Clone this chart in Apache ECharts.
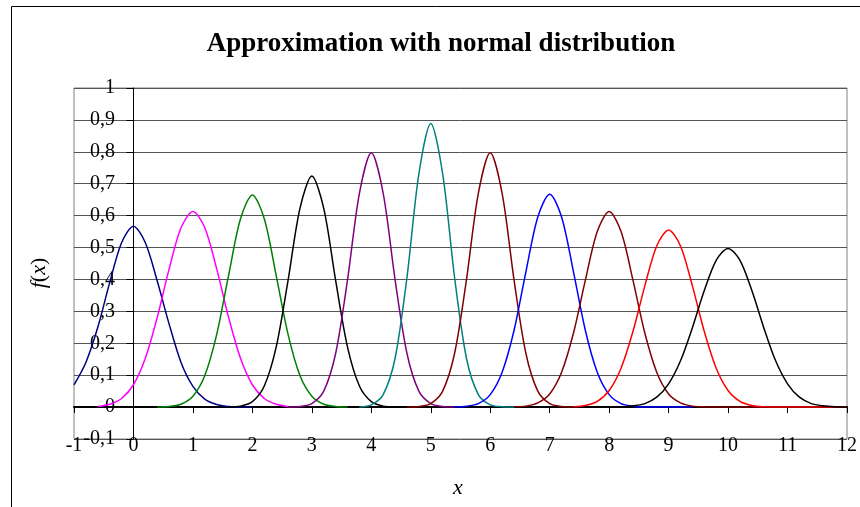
<!DOCTYPE html>
<html>
<head>
    <meta charset="utf-8" />
    <title>Approximation with normal distribution</title>
    <script src="https://cdn.jsdelivr.net/npm/echarts@6/dist/echarts.min.js"></script>
    <style>
        *{
            margin:0;
            padding:0;
        }
        body{
            background:#fff;
        }
        #main{
            width:860px;
            height:507px;
        }
    </style>
</head>
<body>
<div id="main"></div>
<script type="text/javascript">
    // axis ticks
    var xTicks = [-1, 0, 1, 2, 3, 4, 5, 6, 7, 8, 9, 10, 11, 12];
    var yTicks = [-0.1, 0, 0.1, 0.2, 0.3, 0.4, 0.5, 0.6, 0.7, 0.8, 0.9, 1];

    // every curve is read at x = start, start+0.2, start+0.4 ...
    var step = 0.2;
    var curveNames  = ['0', '1', '2', '3', '4', '5', '6', '7', '8', '9', '10'];
    var curveStarts = [-1, -0.6, 0.4, 1.6, 2.6, 3.8, 4.6, 5.4, 6.4, 7.4, 8.2];
    var curveColors = ['#000080', '#ff00ff', '#008000', '#000000', '#800080', '#008080',
                       '#800000', '#0000ff', '#800000', '#ff0000', '#000000'];

    var y0  = [0.07, 0.14, 0.25, 0.39, 0.515, 0.567, 0.515, 0.395, 0.26, 0.14, 0.065, 0.025, 0.008, 0.002, 0, 0];
    var y1  = [0.002, 0.009, 0.027, 0.07, 0.153, 0.281, 0.433, 0.562, 0.613, 0.562, 0.433, 0.281, 0.153, 0.07, 0.027, 0.009, 0.002];
    var y2  = [0, 0.002, 0.009, 0.034, 0.099, 0.228, 0.413, 0.59, 0.665, 0.59, 0.413, 0.228, 0.099, 0.034, 0.009, 0.002, 0];
    var y3  = [0, 0.003, 0.017, 0.066, 0.188, 0.397, 0.623, 0.724, 0.623, 0.397, 0.188, 0.066, 0.017, 0.003, 0];
    var y4  = [0, 0.002, 0.011, 0.05, 0.168, 0.399, 0.67, 0.797, 0.67, 0.399, 0.168, 0.05, 0.011, 0.002, 0];
    var y5  = [0, 0.007, 0.039, 0.153, 0.407, 0.731, 0.889, 0.731, 0.407, 0.153, 0.039, 0.007, 0.001, 0];
    var y6  = [0, 0.002, 0.011, 0.05, 0.168, 0.399, 0.67, 0.797, 0.67, 0.399, 0.168, 0.05, 0.011, 0.002, 0];
    var y7  = [0, 0.003, 0.011, 0.039, 0.109, 0.24, 0.424, 0.596, 0.667, 0.596, 0.424, 0.24, 0.109, 0.039, 0.011, 0.003, 0, 0, 0, 0, 0];
    var y8  = [0.001, 0.003, 0.013, 0.041, 0.109, 0.232, 0.398, 0.55, 0.613, 0.55, 0.398, 0.232, 0.109, 0.041, 0.013, 0.003, 0.001, 0, 0, 0, 0, 0];
    var y9  = [0.001, 0.005, 0.018, 0.052, 0.122, 0.237, 0.38, 0.505, 0.555, 0.505, 0.38, 0.237, 0.122, 0.052, 0.018, 0.005, 0.001, 0, 0, 0, 0, 0, 0, 0];
    var y10 = [0, 0.004, 0.011, 0.031, 0.073, 0.145, 0.249, 0.365, 0.46, 0.497, 0.46, 0.365, 0.249, 0.145, 0.073, 0.031, 0.011, 0.004, 0.001, 0];
    var curveValues = [y0, y1, y2, y3, y4, y5, y6, y7, y8, y9, y10];

    var serif = '"Liberation Serif", "Times New Roman", serif';

    var myChart = echarts.init(document.getElementById('main'));

    var series = curveValues.map(function (ys, k) {
        return {
            name: curveNames[k],
            type: 'line',
            xAxisIndex: 0,
            showSymbol: false,
            symbol: 'none',
            smooth: 0.3,
            lineStyle: {color: curveColors[k], width: 1.5},
            itemStyle: {color: curveColors[k]},
            data: ys.map(function (v, i) {
                return [Math.round((curveStarts[k] + i * step) * 10) / 10, v];
            })
        };
    });

    var option = {
        animation: false,
        backgroundColor: '#fff',
        grid: {
            left: 74, right: 9, top: 88, bottom: 68,
            show: true,
            borderColor: '#808080',
            borderWidth: 1
        },
        xAxis: [{
            // axis line through y = 0
            type: 'value',
            min: xTicks[0], max: xTicks[xTicks.length - 1], interval: 1,
            axisLine: {onZero: true, onZeroAxisIndex: 0, lineStyle: {color: '#000', width: 2}},
            axisTick: {show: true, inside: false, length: 6, lineStyle: {color: '#000'}},
            axisLabel: {show: false},
            splitLine: {show: false}
        }, {
            // tick labels along the bottom
            type: 'value',
            position: 'bottom',
            min: xTicks[0], max: xTicks[xTicks.length - 1], interval: 1,
            axisLine: {show: false, onZero: false},
            axisTick: {show: false},
            splitLine: {show: false},
            axisLabel: {
                color: '#000', fontSize: 20, fontFamily: serif, margin: -3,
                formatter: function (v) { return String(v); }
            }
        }],
        yAxis: {
            type: 'value',
            min: yTicks[0], max: yTicks[yTicks.length - 1], interval: 0.1,
            axisLine: {show: true, onZero: true, onZeroAxisIndex: 0, lineStyle: {color: '#000', width: 1}},
            axisTick: {show: true, length: 7, lineStyle: {color: '#000'}},
            axisLabel: {
                color: '#000', fontSize: 20, fontFamily: serif, margin: -41,
                formatter: function (v) {
                    return String(Math.round(v * 10) / 10).replace('.', ',');
                }
            },
            splitLine: {show: true, lineStyle: {color: '#555', width: 1}}
        },
        graphic: [{
            type: 'rect',
            shape: {x: 11.5, y: 6.5, width: 900, height: 600},
            style: {fill: null, stroke: '#000', lineWidth: 1},
            silent: true, z: -10
        }, {
            type: 'text',
            x: 441, y: 44,
            style: {
                text: 'Approximation with normal distribution',
                font: 'bold 27px ' + serif,
                fill: '#000',
                textAlign: 'center', textVerticalAlign: 'middle'
            }
        }, {
            type: 'text',
            x: 39, y: 273,
            rotation: Math.PI / 2,
            style: {
                text: '{i|f}{n|(}{i|x}{n|)}',
                rich: {
                    i: {font: 'italic 22px ' + serif, fill: '#000'},
                    n: {font: '22px ' + serif, fill: '#000'}
                },
                textAlign: 'center', textVerticalAlign: 'middle'
            }
        }, {
            type: 'text',
            x: 458, y: 488,
            style: {
                text: 'x',
                font: 'italic 22px ' + serif,
                fill: '#000',
                textAlign: 'center', textVerticalAlign: 'middle'
            }
        }],
        series: series
    };

    myChart.setOption(option);
</script>
</body>
</html>
